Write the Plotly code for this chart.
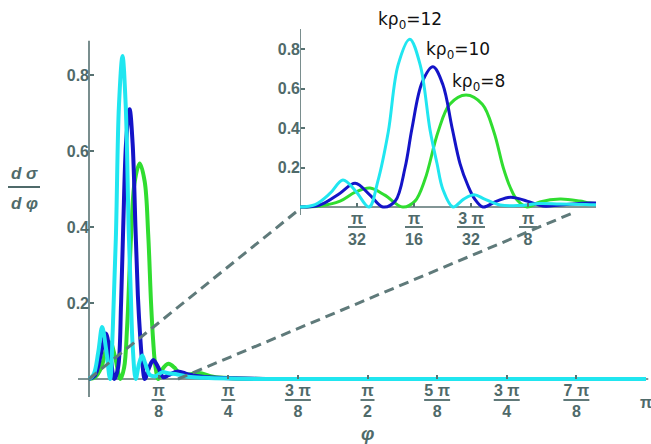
import plotly.graph_objects as go
import math

# ---------------- data ----------------
phi_k12 = [0, 0.026, 0.052, 0.074, 0.096, 0.119, 0.134, 0.152, 0.169, 0.189,
           0.207, 0.224, 0.236, 0.246, 0.2635, 0.282, 0.300, 0.318, 0.345, 0.379,
           0.413, 0.448, 0.50, 0.56, 0.65, 0.8, 1.0, 1.5, 2.0, 2.5, 3.1416]
val_k12 = [0, 0.012, 0.07, 0.137, 0.08, 0.0, 0.13, 0.38, 0.72, 0.85,
           0.72, 0.39, 0.22, 0.09, 0.0, 0.04, 0.062, 0.04, 0.01, 0.008,
           0.018, 0.015, 0.012, 0.006, 0.003, 0.001, 0, 0, 0, 0, 0]

phi_k10 = [0, 0.034, 0.069, 0.095, 0.1206, 0.143, 0.164, 0.181, 0.193, 0.2102,
           0.229, 0.246, 0.262, 0.2756, 0.289, 0.301, 0.315, 0.339, 0.363, 0.391,
           0.4186, 0.448, 0.50, 0.56, 0.65, 0.8, 1.0, 1.5, 2.0, 2.5, 3.1416]
val_k10 = [0, 0.01, 0.07, 0.12, 0.06, 0.0, 0.03, 0.2, 0.4, 0.63,
           0.71, 0.62, 0.4, 0.22, 0.11, 0.04, 0.0, 0.03, 0.05, 0.03,
           0.005, 0.01, 0.02, 0.012, 0.005, 0.002, 0, 0, 0, 0, 0]

phi_k8 = [0, 0.034, 0.069, 0.095, 0.1206, 0.146, 0.177, 0.198, 0.2153, 0.2377,
          0.258, 0.286, 0.314, 0.334, 0.35, 0.362, 0.374, 0.391, 0.413, 0.448,
          0.482, 0.50, 0.56, 0.62, 0.7, 0.8, 1.0, 1.5, 2.0, 2.5, 3.1416]
val_k8 = [0, 0.005, 0.03, 0.075, 0.096, 0.06, 0.0, 0.03, 0.14, 0.38,
          0.52, 0.567, 0.52, 0.38, 0.2, 0.1, 0.035, 0.0, 0.025, 0.04,
          0.03, 0.02, 0.012, 0.016, 0.006, 0.002, 0, 0, 0, 0, 0]

series_names = ["kρ<sub>0</sub>=8", "kρ<sub>0</sub>=10", "kρ<sub>0</sub>=12"]
series_colors = ["#30dd30", "#1414c8", "#20e6f0"]

main_xtick_vals = [math.pi / 8, math.pi / 4, 3 * math.pi / 8, math.pi / 2,
                   5 * math.pi / 8, 3 * math.pi / 4, 7 * math.pi / 8]
main_xtick_text = ["π<br>8", "π<br>4", "3 π<br>8", "π<br>2",
                   "5 π<br>8", "3 π<br>4", "7 π<br>8"]
inset_xtick_vals = [math.pi / 32, math.pi / 16, 3 * math.pi / 32, math.pi / 8]
inset_xtick_text = ["π<br>32", "π<br>16", "3 π<br>32", "π<br>8"]
ytick_vals = [0.2, 0.4, 0.6, 0.8]
ytick_text = ["0.2", "0.4", "0.6", "0.8"]

# ---------------- layout geometry ----------------
W, H = 651, 444
L, R, T, B = 78, 646, 25, 397   # plot-area pixel edges
MAIN_PX_PER_RAD = 177.3
INSET_PX_PER_RAD = 580.6


def px(x):
    return (x - L) / (R - L)


def py(y):
    return (B - y) / (B - T)


AX = "#587272"
TXT = "#4f6a6a"

fig = go.Figure()
phis = [phi_k8, phi_k10, phi_k12]
vals = [val_k8, val_k10, val_k12]
for ph, v, c, n in zip(phis, vals, series_colors, series_names):
    fig.add_trace(go.Scatter(x=ph, y=v, mode="lines", line=dict(color=c, width=4, shape="spline"),
                             name=n, xaxis="x", yaxis="y", showlegend=False, hoverinfo="skip"))
for ph, v, c, n in zip(phis, vals, series_colors, series_names):
    fig.add_trace(go.Scatter(x=ph, y=v, mode="lines", line=dict(color=c, width=3, shape="spline"),
                             name=n, xaxis="x2", yaxis="y2", showlegend=False, hoverinfo="skip"))

tickfont = dict(family="Liberation Sans", size=16, color=TXT, weight="bold")

fig.update_layout(
    width=W, height=H,
    margin=dict(l=L, r=W - R, t=T, b=H - B),
    paper_bgcolor="white", plot_bgcolor="white",
    xaxis=dict(domain=[0, 1], range=[-11 / MAIN_PX_PER_RAD, math.pi], anchor="free", position=py(379),
               showgrid=False, zeroline=False, showline=False,
               tickvals=main_xtick_vals, ticktext=main_xtick_text,
               ticks="inside", ticklen=4, tickwidth=1.5, tickcolor=AX, tickfont=tickfont),
    yaxis=dict(domain=[0, 1], range=[-18 / 380, (379 - T) / 380], anchor="free", position=px(89),
               showgrid=False, zeroline=False, showline=False,
               tickvals=ytick_vals, ticktext=ytick_text,
               ticks="inside", ticklen=4, tickwidth=1.5, tickcolor=AX, tickfont=tickfont),
    xaxis2=dict(domain=[px(300), px(596)], range=[0, 296 / INSET_PX_PER_RAD], anchor="free", position=py(207),
                showgrid=False, zeroline=False, showline=False,
                tickvals=inset_xtick_vals, ticktext=inset_xtick_text,
                ticks="inside", ticklen=4, tickwidth=1.5, tickcolor=AX, tickfont=tickfont),
    yaxis2=dict(domain=[py(215), py(29)], range=[-8 / 197.5, 178 / 197.5], anchor="free", position=px(300),
                showgrid=False, zeroline=False, showline=False,
                tickvals=ytick_vals, ticktext=ytick_text,
                ticks="inside", ticklen=4, tickwidth=1.5, tickcolor=AX, tickfont=tickfont),
)

# axis lines
fig.add_shape(type="line", xref="x", yref="y", x0=0, x1=0, y0=-18 / 380, y1=0.89,
              line=dict(color=AX, width=1.6), layer="below")
fig.add_shape(type="line", xref="paper", yref="y", x0=0, x1=1.004, y0=0, y1=0,
              line=dict(color=AX, width=1.6), layer="below")
fig.add_shape(type="line", xref="x2", yref="y2", x0=0, x1=0, y0=-8 / 197.5, y1=178 / 197.5,
              line=dict(color=AX, width=1.6), layer="below")
fig.add_shape(type="line", xref="x2", yref="y2", x0=0, x1=296 / INSET_PX_PER_RAD, y0=0, y1=0,
              line=dict(color=AX, width=1.6), layer="below")

# fraction bars under tick-label numerators
for v, t in zip(main_xtick_vals, main_xtick_text):
    half = (13 if len(t.split("<br>")[0]) > 1 else 7) / MAIN_PX_PER_RAD
    fig.add_shape(type="line", xref="x", yref="paper", x0=v - half, x1=v + half, y0=py(400), y1=py(400),
                  line=dict(color=TXT, width=1.8))
for v, t in zip(inset_xtick_vals, inset_xtick_text):
    half = (14 if len(t.split("<br>")[0]) > 1 else 9) / INSET_PX_PER_RAD
    fig.add_shape(type="line", xref="x2", yref="paper", x0=v - half, x1=v + half, y0=py(227), y1=py(227),
                  line=dict(color=TXT, width=1.8))

# zoom connector dashed lines
fig.add_shape(type="line", xref="paper", yref="paper", x0=px(89), y0=py(379), x1=px(296), y1=py(212),
              line=dict(color="#5f7a7a", width=3, dash="10px,6px"))
fig.add_shape(type="line", xref="paper", yref="paper", x0=px(178), y0=py(379), x1=px(575), y1=py(212),
              line=dict(color="#5f7a7a", width=3, dash="10px,6px"))

# π label at the end of the main x axis
fig.add_annotation(x=math.pi, xref="x", y=py(402), yref="paper", text="π", showarrow=False,
                   font=tickfont, xanchor="center", yanchor="middle")

# y title: dσ / dφ
fig.add_annotation(x=px(24), y=py(173), xref="paper", yref="paper", text="<i>d σ</i>", showarrow=False,
                   font=dict(family="Liberation Sans", size=17, color=TXT, weight="bold"),
                   xanchor="center", yanchor="middle")
fig.add_annotation(x=px(24), y=py(203), xref="paper", yref="paper", text="<i>d φ</i>", showarrow=False,
                   font=dict(family="Liberation Sans", size=17, color=TXT, weight="bold"),
                   xanchor="center", yanchor="middle")
fig.add_shape(type="line", xref="paper", yref="paper", x0=px(8), x1=px(40), y0=py(187), y1=py(187),
              line=dict(color=TXT, width=2))

# x title
fig.add_annotation(x=px(367), y=py(434), xref="paper", yref="paper", text="<i>φ</i>", showarrow=False,
                   font=dict(family="Liberation Sans", size=19, color=TXT, weight="bold"),
                   xanchor="center", yanchor="middle")

# curve labels
label_pos = [(478, 82), (458, 50), (410, 20)]
for (lx, ly), n in zip(label_pos, series_names):
    fig.add_annotation(x=px(lx), y=py(ly), xref="paper", yref="paper", text=n, showarrow=False,
                       font=dict(family="DejaVu Sans", size=17, color="#111111"),
                       xanchor="center", yanchor="middle")

fig.write_html("out.html")
